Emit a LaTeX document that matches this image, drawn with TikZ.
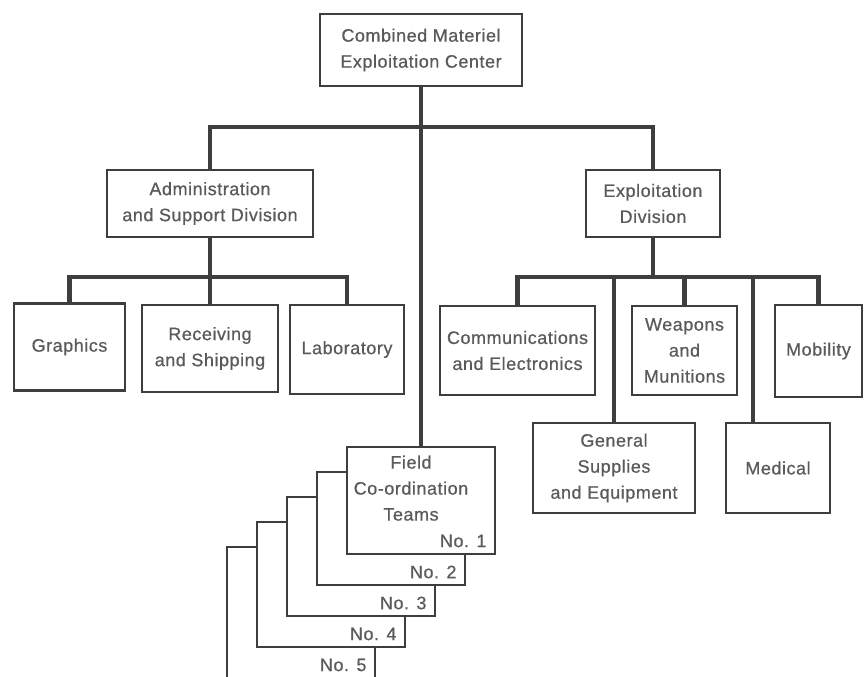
\documentclass[tikz,border=0pt]{standalone}
\usepackage{fontspec}
\setmainfont{Liberation Sans}[LetterSpace=3,FakeBold=0.6]
\begin{document}
\begin{tikzpicture}[x=1pt,y=-1pt,
  box/.style={draw=linegray, line width=2.7pt, fill=white, text=textgray,
    align=center, inner sep=0pt, font=\fontsize{18}{26}\selectfont},
  bus/.style={draw=linegray, line width=4.6pt},
  teamno/.style={text=textgray, anchor=east, font=\fontsize{18}{26}\selectfont}]
\definecolor{linegray}{HTML}{3E3E3E}
\definecolor{textgray}{HTML}{5A5A5A}
\useasboundingbox (0,0) rectangle (867,677);

% Headquarters and divisions
\node[box, minimum width=202pt, minimum height=72pt] (cmec) at (421,50) {Combined Materiel\\Exploitation Center};
\node[box, minimum width=206pt, minimum height=67pt] (admin) at (210,203.5) {Administration\\and Support Division};
\node[box, minimum width=134pt, minimum height=67pt] (expl) at (653,203.5) {Exploitation\\Division};

% Administration and Support branches
\node[box, minimum width=111pt, minimum height=87pt] (graph) at (69.5,347) {Graphics};
\node[box, minimum width=136pt, minimum height=87pt] (recv) at (210,348.5) {Receiving\\and Shipping};
\node[box, minimum width=114pt, minimum height=89pt] (lab) at (347,349.5) {Laboratory};

% Exploitation branches
\node[box, minimum width=155pt, minimum height=89pt] (comm) at (517.5,350.5) {Communications\\and Electronics};
\node[box, minimum width=105pt, minimum height=89pt] (weap) at (684.5,350.5) {Weapons\\and\\Munitions};
\node[box, minimum width=87pt, minimum height=92pt] (mob) at (818.5,351) {Mobility};
\node[box, minimum width=162pt, minimum height=90pt] (gen) at (614,468) {General\\Supplies\\and Equipment};
\node[box, minimum width=104pt, minimum height=90pt] (med) at (778,468) {Medical};

% Field co-ordination teams, stacked back to front
\foreach \n in {5,4,3,2} {
  \pgfmathsetmacro{\lx}{347-30*(\n-1)}
  \pgfmathsetmacro{\ty}{447+25*(\n-1)}
  \pgfmathsetmacro{\by}{554+31*(\n-1)}
  \draw[draw=linegray, line width=2.7pt, fill=white] (\lx,\ty) rectangle ({\lx+148},\by);
  \node[teamno] (team\n) at ({\lx+143},{\by-13}) {No. \n};
}
\node[box, minimum width=148pt, minimum height=107pt] (field) at (421,500.5) {};
\node[text=textgray, align=center, font=\fontsize{18}{26}\selectfont, anchor=north] (fieldtxt) at (411,452) {Field\\Co-ordination\\Teams};
\node[teamno] (team1) at (490,541) {No. 1};

% Bus junctions
\coordinate (mainbus) at (421,127);
\coordinate (leftbus) at (210,277);
\coordinate (rightbus) at (653,277);
\coordinate (medtap) at (753,423);

% Connectors
\draw[bus] (cmec.south) -- (field.north);
\draw[bus] (admin.north) |- (mainbus) -| (expl.north);
\draw[bus] (admin.south) -- (recv.north);
\draw[bus] (graph.north) |- (leftbus) -| (lab.north);
\draw[bus] (expl.south) -- (rightbus);
\draw[bus] (comm.north) |- (rightbus) -| (mob.north);
\draw[bus] (weap.north) -- (weap.north |- rightbus);
\draw[bus] (gen.north) -- (gen.north |- rightbus);
\draw[bus] (medtap) -- (medtap |- rightbus);
\end{tikzpicture}
\end{document}
